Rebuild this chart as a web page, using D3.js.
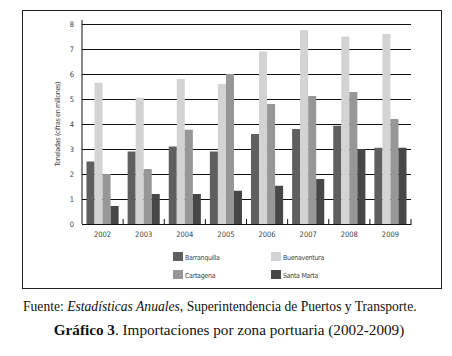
<!DOCTYPE html>
<html>
<head>
<meta charset="utf-8">
<script src="https://cdn.jsdelivr.net/npm/d3@7"></script>
<style>
  html, body { margin: 0; padding: 0; background: #fff; }
  svg { display: block; }
</style>
</head>
<body>
<script>
// data
const years = ["2002", "2003", "2004", "2005", "2006", "2007", "2008", "2009"];
const ports = ["Barranquilla", "Buenaventura", "Cartagena", "Santa Marta"];
const barranquilla = [2.5, 2.9, 3.1, 2.9, 3.6, 3.8, 3.93, 3.05];
const buenaventura = [5.65, 5.05, 5.8, 5.6, 6.9, 7.75, 7.5, 7.6];
const cartagena = [2.0, 2.2, 3.77, 6.0, 4.8, 5.12, 5.28, 4.2];
const santaMarta = [0.72, 1.2, 1.2, 1.33, 1.53, 1.8, 3.0, 3.05];
const yTicks = [0, 1, 2, 3, 4, 5, 6, 7, 8];
const yLabel = "Toneladas (cifras en millones)";
const source = ["Fuente: ", "Estadísticas Anuales", ", Superintendencia de Puertos y Transporte."];
const caption = ["Gráfico 3", ". Importaciones por zona portuaria (2002-2009)"];

const seriesValues = [barranquilla, buenaventura, cartagena, santaMarta];
const data = years.flatMap((yr, i) => ports.map((p, j) => ({year: yr, port: p, value: seriesValues[j][i]})));

const width = 452, height = 356;
const marginLeft = 82, marginRight = 41, marginTop = 24, marginBottom = 132;

const color = d3.scaleOrdinal()
    .domain(ports)
    .range(["#5f5f5f", "#d3d3d3", "#979797", "#474747"]);

const x = d3.scaleBand().domain(years).range([marginLeft, width - marginRight]).paddingInner(0).paddingOuter(0);
const xs = d3.scaleBand().domain(ports).range([4.5, x.bandwidth() - 4.5]).padding(0);
const y = d3.scaleLinear().domain([0, 8]).range([height - marginBottom, marginTop]);

const sans = "'DejaVu Sans Condensed', 'DejaVu Sans', sans-serif";
const serif = "'Liberation Serif', 'DejaVu Serif', serif";

const svg = d3.select("body").append("svg")
    .attr("width", width)
    .attr("height", height)
    .attr("viewBox", [0, 0, width, height]);

// frame around chart
svg.append("rect")
    .attr("x", 22.5).attr("y", 10.5)
    .attr("width", 419).attr("height", 278)
    .attr("fill", "none").attr("stroke", "#222").attr("stroke-width", 1);

// gridlines + y axis
const yAxis = d3.axisLeft(y).tickValues(yTicks).tickSize(0).tickPadding(8);
svg.append("g")
    .attr("transform", `translate(${marginLeft},0)`)
    .call(yAxis)
    .call(g => g.select(".domain").remove())
    .call(g => g.selectAll(".tick text")
        .attr("font-family", sans).attr("font-size", 7.5).attr("fill", "#444"))
    .call(g => g.selectAll(".tick line").clone()
        .attr("x2", width - marginLeft - marginRight)
        .attr("stroke", "#111").attr("stroke-width", 1));

// bars
svg.append("g")
    .selectAll("rect")
    .data(data)
    .join("rect")
    .attr("x", d => x(d.year) + xs(d.port))
    .attr("width", xs.bandwidth())
    .attr("y", d => y(d.value))
    .attr("height", d => y(0) - y(d.value))
    .attr("fill", d => color(d.port));

// vertical axis line
svg.append("line")
    .attr("x1", marginLeft).attr("x2", marginLeft)
    .attr("y1", marginTop - 4).attr("y2", y(0))
    .attr("stroke", "#111");

// x axis with inward ticks at band edges
const xAxis = d3.axisBottom(x).tickSize(0).tickPadding(8);
svg.append("g")
    .attr("transform", `translate(0,${y(0)})`)
    .call(xAxis)
    .call(g => g.select(".domain").attr("stroke", "#111"))
    .call(g => g.selectAll(".tick text")
        .attr("font-family", sans).attr("font-size", 7.5).attr("fill", "#444"))
    .call(g => g.selectAll(".edge")
        .data(years.slice(1).map(d => x(d)).concat([width - marginRight]))
        .join("line")
        .attr("x1", d => d).attr("x2", d => d)
        .attr("y1", 0).attr("y2", -5)
        .attr("stroke", "#111"));

// y label
svg.append("text")
    .attr("transform", `translate(60,${(y(0) + y(8)) / 2}) rotate(-90)`)
    .attr("text-anchor", "middle")
    .attr("font-family", sans)
    .attr("font-size", 7)
    .attr("letter-spacing", -0.3)
    .attr("fill", "#444")
    .text(yLabel);

// legend
const legend = svg.append("g")
    .selectAll("g")
    .data(ports)
    .join("g")
    .attr("transform", (d, i) => `translate(${173 + (i % 2) * 98},${252 + Math.floor(i / 2) * 18})`);
legend.append("rect")
    .attr("width", 10).attr("height", 9)
    .attr("fill", d => color(d));
legend.append("text")
    .attr("x", 12).attr("y", 7.5)
    .attr("font-family", sans).attr("font-size", 7)
    .attr("letter-spacing", -0.3)
    .attr("fill", "#444")
    .text(d => d);

// source and caption
const src = svg.append("text")
    .attr("x", 23).attr("y", 311)
    .attr("font-family", serif).attr("font-size", 13.6)
    .attr("fill", "#111");
src.append("tspan").text(source[0]);
src.append("tspan").attr("font-style", "italic").text(source[1]);
src.append("tspan").text(source[2]);

const cap = svg.append("text")
    .attr("x", 229).attr("y", 335)
    .attr("text-anchor", "middle")
    .attr("font-family", serif).attr("font-size", 15.2)
    .attr("fill", "#111");
cap.append("tspan").attr("font-weight", "bold").text(caption[0]);
cap.append("tspan").text(caption[1]);
</script>
</body>
</html>
